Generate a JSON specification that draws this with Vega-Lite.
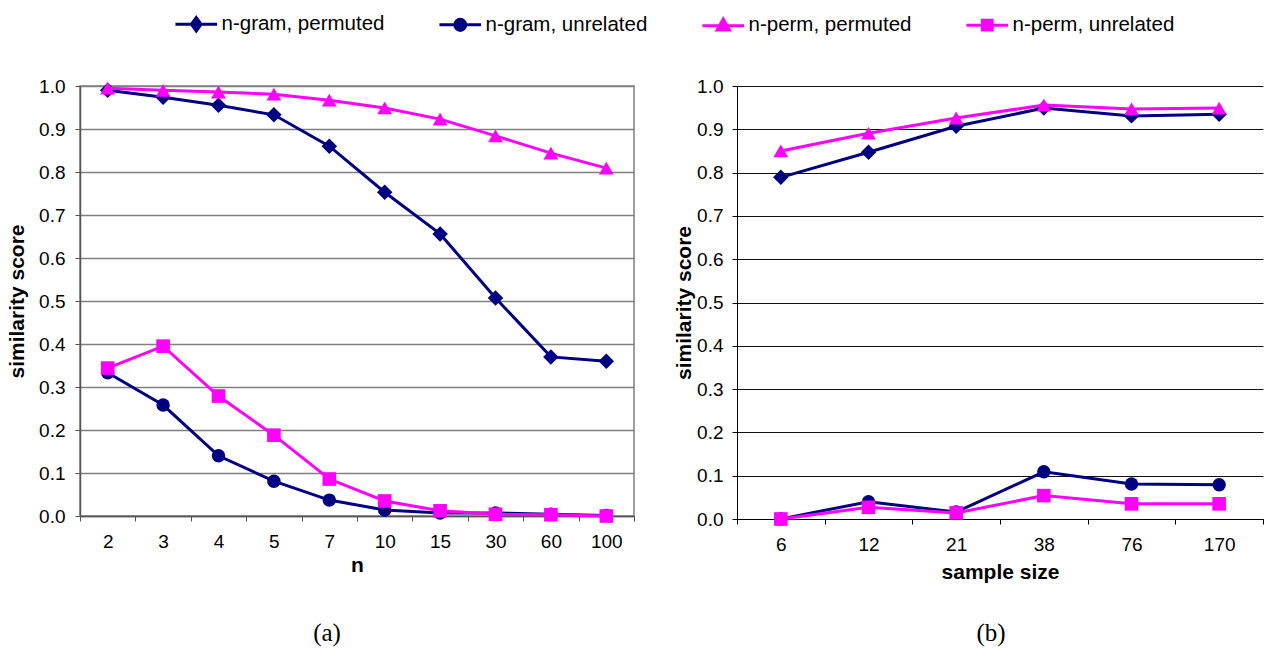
{
  "$schema": "https://vega.github.io/schema/vega-lite/v6.json",
  "padding": {"left": 5, "top": 14, "right": 0, "bottom": 0},
  "background": "white",
  "config": {
    "font": "Liberation Sans",
    "view": {"stroke": null},
    "axis": {"labelFont": "Liberation Sans", "titleFont": "Liberation Sans", "labelFontSize": 19, "titleFontSize": 21, "titleFontWeight": "bold", "labelColor": "#000", "titleColor": "#000", "tickSize": 5},
    "legend": {"labelFont": "Liberation Sans"}
  },
  "datasets": {
    "a": [
      {"n": "2", "series": "n-gram, permuted", "score": 0.99},
      {"n": "3", "series": "n-gram, permuted", "score": 0.974},
      {"n": "4", "series": "n-gram, permuted", "score": 0.955},
      {"n": "5", "series": "n-gram, permuted", "score": 0.933},
      {"n": "7", "series": "n-gram, permuted", "score": 0.86},
      {"n": "10", "series": "n-gram, permuted", "score": 0.753},
      {"n": "15", "series": "n-gram, permuted", "score": 0.656},
      {"n": "30", "series": "n-gram, permuted", "score": 0.507},
      {"n": "60", "series": "n-gram, permuted", "score": 0.37},
      {"n": "100", "series": "n-gram, permuted", "score": 0.36},
      {"n": "2", "series": "n-gram, unrelated", "score": 0.333},
      {"n": "3", "series": "n-gram, unrelated", "score": 0.258},
      {"n": "4", "series": "n-gram, unrelated", "score": 0.14},
      {"n": "5", "series": "n-gram, unrelated", "score": 0.081},
      {"n": "7", "series": "n-gram, unrelated", "score": 0.037},
      {"n": "10", "series": "n-gram, unrelated", "score": 0.014},
      {"n": "15", "series": "n-gram, unrelated", "score": 0.007},
      {"n": "30", "series": "n-gram, unrelated", "score": 0.007},
      {"n": "60", "series": "n-gram, unrelated", "score": 0.004},
      {"n": "100", "series": "n-gram, unrelated", "score": 0.001},
      {"n": "2", "series": "n-perm, permuted", "score": 0.995},
      {"n": "3", "series": "n-perm, permuted", "score": 0.99},
      {"n": "4", "series": "n-perm, permuted", "score": 0.986},
      {"n": "5", "series": "n-perm, permuted", "score": 0.981},
      {"n": "7", "series": "n-perm, permuted", "score": 0.967},
      {"n": "10", "series": "n-perm, permuted", "score": 0.949},
      {"n": "15", "series": "n-perm, permuted", "score": 0.923},
      {"n": "30", "series": "n-perm, permuted", "score": 0.884},
      {"n": "60", "series": "n-perm, permuted", "score": 0.844},
      {"n": "100", "series": "n-perm, permuted", "score": 0.809},
      {"n": "2", "series": "n-perm, unrelated", "score": 0.344},
      {"n": "3", "series": "n-perm, unrelated", "score": 0.395},
      {"n": "4", "series": "n-perm, unrelated", "score": 0.279},
      {"n": "5", "series": "n-perm, unrelated", "score": 0.188},
      {"n": "7", "series": "n-perm, unrelated", "score": 0.086},
      {"n": "10", "series": "n-perm, unrelated", "score": 0.035},
      {"n": "15", "series": "n-perm, unrelated", "score": 0.012},
      {"n": "30", "series": "n-perm, unrelated", "score": 0.004},
      {"n": "60", "series": "n-perm, unrelated", "score": 0.003},
      {"n": "100", "series": "n-perm, unrelated", "score": 0.0}
    ],
    "b": [
      {"size": "6", "series": "n-gram, permuted", "score": 0.789},
      {"size": "12", "series": "n-gram, permuted", "score": 0.847},
      {"size": "21", "series": "n-gram, permuted", "score": 0.907},
      {"size": "38", "series": "n-gram, permuted", "score": 0.949},
      {"size": "76", "series": "n-gram, permuted", "score": 0.931},
      {"size": "170", "series": "n-gram, permuted", "score": 0.935},
      {"size": "6", "series": "n-gram, unrelated", "score": 0.0},
      {"size": "12", "series": "n-gram, unrelated", "score": 0.04},
      {"size": "21", "series": "n-gram, unrelated", "score": 0.016},
      {"size": "38", "series": "n-gram, unrelated", "score": 0.109},
      {"size": "76", "series": "n-gram, unrelated", "score": 0.081},
      {"size": "170", "series": "n-gram, unrelated", "score": 0.079},
      {"size": "6", "series": "n-perm, permuted", "score": 0.85},
      {"size": "12", "series": "n-perm, permuted", "score": 0.891},
      {"size": "21", "series": "n-perm, permuted", "score": 0.926},
      {"size": "38", "series": "n-perm, permuted", "score": 0.956},
      {"size": "76", "series": "n-perm, permuted", "score": 0.947},
      {"size": "170", "series": "n-perm, permuted", "score": 0.949},
      {"size": "6", "series": "n-perm, unrelated", "score": 0.0},
      {"size": "12", "series": "n-perm, unrelated", "score": 0.027},
      {"size": "21", "series": "n-perm, unrelated", "score": 0.014},
      {"size": "38", "series": "n-perm, unrelated", "score": 0.054},
      {"size": "76", "series": "n-perm, unrelated", "score": 0.035},
      {"size": "170", "series": "n-perm, unrelated", "score": 0.035}
    ]
  },
  "spacing": 37,
  "hconcat": [
    {
      "width": 554,
      "height": 430,
      "data": {"name": "a"},
      "view": {"stroke": "#808080", "strokeWidth": 1.5},
      "title": {"text": "(a)", "orient": "bottom", "frame": "group", "anchor": "middle", "dx": -30, "offset": 46, "font": "Liberation Serif", "fontSize": 25, "fontWeight": "normal", "color": "#000"},
      "encoding": {
        "x": {"field": "n", "type": "ordinal", "sort": null, "scale": {"type": "band", "paddingInner": 0, "paddingOuter": 0},
          "axis": {"title": "n", "labelAngle": 0, "tickBand": "extent", "domainColor": "#555", "tickColor": "#555", "domainWidth": 1.5, "labelPadding": 11, "titlePadding": 3, "grid": false}},
        "y": {"field": "score", "type": "quantitative", "scale": {"domain": [0, 1], "nice": false, "zero": true},
          "axis": {"title": "similarity score", "values": [0, 0.1, 0.2, 0.3, 0.4, 0.5, 0.6, 0.7, 0.8, 0.9, 1.0], "format": ".1f", "grid": true, "gridColor": "#808080", "gridWidth": 1.5, "domainColor": "#555", "tickColor": "#555", "domainWidth": 1.5, "labelPadding": 10, "titlePadding": 11}}
      },
      "layer": [
        {"transform": [{"filter": "datum.series === 'n-gram, permuted'"}], "mark": {"type": "line", "strokeWidth": 3, "color": "#000080", "point": {"shape": "diamond", "filled": true, "size": 240, "color": "#000080", "opacity": 1}}},
        {"transform": [{"filter": "datum.series === 'n-gram, unrelated'"}], "mark": {"type": "line", "strokeWidth": 3, "color": "#000080", "point": {"shape": "circle", "filled": true, "size": 180, "color": "#000080", "opacity": 1}}},
        {"transform": [{"filter": "datum.series === 'n-perm, permuted'"}], "mark": {"type": "line", "strokeWidth": 3, "color": "#FF00FF", "point": {"shape": "triangle-up", "filled": true, "size": 220, "color": "#FF00FF", "opacity": 1}}},
        {"transform": [{"filter": "datum.series === 'n-perm, unrelated'"}], "mark": {"type": "line", "strokeWidth": 3, "color": "#FF00FF", "point": {"shape": "square", "filled": true, "size": 185, "color": "#FF00FF", "opacity": 1}}},
        {"transform": [{"filter": "datum.score < -1"}], "mark": {"type": "point", "filled": true, "opacity": 1, "strokeWidth": 3},
          "encoding": {
            "color": {"field": "series", "type": "nominal",
              "scale": {"domain": ["n-gram, permuted", "n-gram, unrelated", "n-perm, permuted", "n-perm, unrelated"], "range": ["#000080", "#000080", "#FF00FF", "#FF00FF"]},
              "legend": {"orient": "none", "legendX": 106, "legendY": -72, "padding": 0, "direction": "horizontal", "columns": 4, "title": null, "labelFontSize": 20.5, "labelColor": "#000", "labelLimit": 400, "symbolSize": 150, "symbolStrokeWidth": 3, "labelOffset": 15, "columnPadding": 48}},
            "stroke": {"field": "series", "type": "nominal",
              "scale": {"domain": ["n-gram, permuted", "n-gram, unrelated", "n-perm, permuted", "n-perm, unrelated"], "range": ["#000080", "#000080", "#FF00FF", "#FF00FF"]},
              "legend": {"orient": "none", "legendX": 106, "legendY": -72, "padding": 0, "direction": "horizontal", "columns": 4, "title": null, "labelFontSize": 20.5, "labelColor": "#000", "labelLimit": 400, "symbolSize": 150, "symbolStrokeWidth": 3, "labelOffset": 15, "columnPadding": 48}},
            "shape": {"field": "series", "type": "nominal",
              "scale": {"domain": ["n-gram, permuted", "n-gram, unrelated", "n-perm, permuted", "n-perm, unrelated"],
                "range": ["M0,-1.1L0.8,0L0,1.1L-0.8,0Z M-3.4,0H3.4", "M0.9,0A0.9,0.9,0,1,1,-0.9,0A0.9,0.9,0,1,1,0.9,0Z M-3.4,0H3.4", "M0,-1L1,0.8L-1,0.8Z M-3.4,0.1H3.4", "M-0.8,-0.8H0.8V0.8H-0.8Z M-3.4,0H3.4"]},
              "legend": {"orient": "none", "legendX": 106, "legendY": -72, "padding": 0, "direction": "horizontal", "columns": 4, "title": null, "labelFontSize": 20.5, "labelColor": "#000", "labelLimit": 400, "symbolSize": 150, "symbolStrokeWidth": 3, "labelOffset": 15, "columnPadding": 48}}
          }}
      ]
    },
    {
      "width": 526,
      "height": 433,
      "data": {"name": "b"},
      "title": {"text": "(b)", "orient": "bottom", "frame": "group", "anchor": "middle", "dx": -9, "offset": 39, "font": "Liberation Serif", "fontSize": 25, "fontWeight": "normal", "color": "#000"},
      "encoding": {
        "x": {"field": "size", "type": "ordinal", "sort": null, "scale": {"type": "band", "paddingInner": 0, "paddingOuter": 0},
          "axis": {"title": "sample size", "labelAngle": 0, "tickBand": "extent", "domainColor": "#000", "tickColor": "#000", "labelPadding": 11, "titlePadding": 7, "grid": false}},
        "y": {"field": "score", "type": "quantitative", "scale": {"domain": [0, 1], "nice": false, "zero": true},
          "axis": {"title": "similarity score", "values": [0, 0.1, 0.2, 0.3, 0.4, 0.5, 0.6, 0.7, 0.8, 0.9, 1.0], "format": ".1f", "grid": true, "gridColor": "#111", "domainColor": "#000", "tickColor": "#000", "labelPadding": 9, "titlePadding": 2}}
      },
      "layer": [
        {"transform": [{"filter": "datum.series === 'n-gram, permuted'"}], "mark": {"type": "line", "strokeWidth": 3, "color": "#000080", "point": {"shape": "diamond", "filled": true, "size": 240, "color": "#000080", "opacity": 1}}},
        {"transform": [{"filter": "datum.series === 'n-gram, unrelated'"}], "mark": {"type": "line", "strokeWidth": 3, "color": "#000080", "point": {"shape": "circle", "filled": true, "size": 180, "color": "#000080", "opacity": 1}}},
        {"transform": [{"filter": "datum.series === 'n-perm, permuted'"}], "mark": {"type": "line", "strokeWidth": 3, "color": "#FF00FF", "point": {"shape": "triangle-up", "filled": true, "size": 220, "color": "#FF00FF", "opacity": 1}}},
        {"transform": [{"filter": "datum.series === 'n-perm, unrelated'"}], "mark": {"type": "line", "strokeWidth": 3, "color": "#FF00FF", "point": {"shape": "square", "filled": true, "size": 185, "color": "#FF00FF", "opacity": 1}}}
      ]
    }
  ]
}
